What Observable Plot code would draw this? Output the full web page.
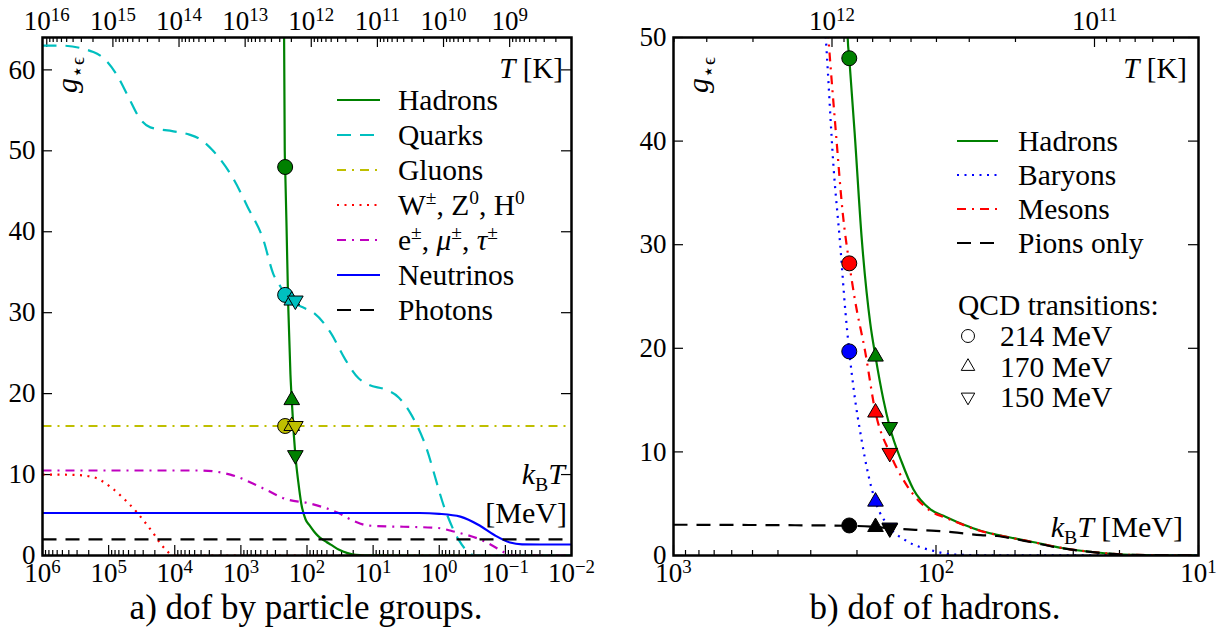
<!DOCTYPE html>
<html>
<head>
<meta charset="utf-8">
<script src="https://cdn.jsdelivr.net/npm/d3@7"></script>
<script src="https://cdn.jsdelivr.net/npm/@observablehq/plot@0.6"></script>
<style>
  html,body{margin:0;padding:0;background:#fff;}
  #wrap{position:relative;width:1229px;height:643px;overflow:hidden;font-family:'Liberation Serif','DejaVu Serif',serif;color:#000;}
  .panel{position:absolute;top:0;}
  .cap{position:absolute;top:590px;font-size:35px;line-height:1;white-space:nowrap;transform:translateX(-50%);font-family:'Liberation Serif','DejaVu Serif',serif;}
  #ov{position:absolute;left:0;top:0;pointer-events:none;}
  svg text{font-family:'Liberation Serif','DejaVu Serif',serif;}
</style>
</head>
<body>
<div id="wrap"></div>
<script>
// ---------------- data (x = k_B T in MeV, y = g*eps) ----------------
// panel a
const hadronT = [222, 217, 214, 204, 192, 178, 170, 158.5, 150, 135, 122, 105, 92, 78.3, 67.6, 58.5, 50.7, 43.7, 32.7, 24.3, 18.2, 10, 1, 0.01];
const hadronG = [64, 50, 48, 40.7, 30.7, 22.4, 19.2, 15.0, 12.4, 9.0, 6.4, 4.45, 3.75, 2.97, 2.39, 2.0, 1.67, 1.35, 0.7, 0.29, 0.07, 0.005, 0, 0];
const quarkT = [1e6, 537000, 170000, 104700, 74100, 51300, 33100, 23400, 10470, 6000, 3900, 2700, 1290, 794, 457, 324, 251, 214, 170, 141, 112, 79.4, 43.7, 26.3, 16.6, 11.7, 6.46, 4.07, 2.69, 1.74, 0.776, 0.513, 0.282, 0.01];
const quarkG = [63, 63, 62.2, 61.0, 59.3, 56.8, 53.9, 52.9, 52.4, 52.0, 51.3, 50.1, 46.5, 43.1, 39.0, 34.8, 33.2, 32.2, 31.5, 31.0, 30.6, 30.0, 27.5, 24.2, 21.9, 21.1, 20.5, 19.5, 17.5, 14.3, 5.2, 2.0, 0, 0];
const gluonT = [1e6, 0.01];
const gluonG = [16, 16];
const wzhT = [1e6, 758600, 316000, 173800, 91200, 60300, 38000, 28800, 20900, 15850, 12900, 10700, 0.01];
const wzhG = [10, 10, 9.95, 9.7, 8.4, 7.1, 5.4, 4.2, 2.7, 1.3, 0.5, 0, 0];
const leptonT = [1e6, 4170, 1445, 490, 195, 100, 34.7, 20, 11.7, 1.05, 0.63, 0.214, 0.11, 0.085, 0.01];
const leptonG = [10.5, 10.5, 10.0, 8.4, 6.9, 6.5, 5.3, 4.3, 3.7, 3.4, 3.0, 1.8, 0.5, 0, 0];
const nuT = [1e6, 2, 1.0, 0.48, 0.245, 0.145, 0.085, 0.056, 0.03, 0.01];
const nuG = [5.25, 5.25, 5.15, 4.8, 3.7, 2.5, 1.6, 1.38, 1.36, 1.36];
const photonT = [1e6, 0.01];
const photonG = [2, 2];
// panel b
const baryonT = [268, 263, 245.5, 231.7, 221.3, 214, 205, 192.8, 181.1, 170, 150, 130.3, 102.3, 87.1, 63, 10];
const baryonG = [53, 50, 37.4, 30.0, 23.5, 19.7, 15.7, 11.4, 7.8, 5.2, 2.7, 1.45, 0.45, 0.1, 0.01, 0];
const mesonT = [262, 257, 240.4, 226.5, 214, 203.7, 186.2, 170, 150, 129.4, 105, 92, 78.3, 67.6, 58.5, 50.7, 43.7, 32.7, 24.3, 18.2, 10];
const mesonG = [53, 50, 40.7, 33.0, 28.2, 24.7, 19.7, 13.8, 9.9, 6.8, 4.3, 3.65, 2.93, 2.36, 1.98, 1.66, 1.34, 0.7, 0.29, 0.07, 0.005];
const pionT = [1000, 400, 214, 170, 150, 120, 100, 83, 67.6, 58.5, 50.7, 43.7, 32.7, 24.3, 18.2, 10];
const pionG = [2.97, 2.93, 2.87, 2.75, 2.62, 2.48, 2.38, 2.2, 1.97, 1.88, 1.62, 1.3, 0.68, 0.28, 0.07, 0.005];
// QCD transition markers (MeV) and values
const transitions = [214, 170, 150];
const hadronMark = [48, 19.2, 12.4];
const quarkMark = [32.2, 31.5, 31.5];
const gluonMark = [16, 16, 16];
const baryonMark = [19.7, 5.2, 2.7];
const mesonMark = [28.2, 13.8, 9.9];
const pionMark = [2.9, 2.75, 2.62];
// axes
const bottomExpA = [6, 5, 4, 3, 2, 1, 0, -1, -2];
const topExpA = [16, 15, 14, 13, 12, 11, 10, 9];
const yTicksA = [0, 10, 20, 30, 40, 50, 60];
const bottomExpB = [3, 2, 1];
const topExpB = [12, 11];
const yTicksB = [0, 10, 20, 30, 40, 50];
const kelvinToMeVA = 8.617e-11;
const kelvinToMeVB = 2.49e-10;

// ---------------- drawing ----------------
const FONT = "'Liberation Serif','DejaVu Serif',serif";
const TS = 27; // tick label size
const SVGNS = "http://www.w3.org/2000/svg";
const wrap = document.getElementById("wrap");
const series = (T, G) => T.map((t, i) => ({t, g: G[i]}));
const triDown = {draw(ctx, size) {
  const y = -Math.sqrt(size / (Math.sqrt(3) * 3));
  ctx.moveTo(0, -y * 2); ctx.lineTo(-Math.sqrt(3) * y, y); ctx.lineTo(Math.sqrt(3) * y, y); ctx.closePath();
}};
const SYM = [{symbol: "circle", r: 7.5}, {symbol: "triangle", r: 5.8}, {symbol: triDown, r: 5.8}];

const C = {green: "#008000", cyan: "#00bfbf", yellow: "#bfbf00", red: "#ff0000", magenta: "#bf00bf", blue: "#0000ff", black: "#000000"};
const DASH = {dash: "14,9", dashdot: "9,6,2,6", dot: "2,5.5", solid: null};

function supify(root) {
  root.querySelectorAll("text").forEach(t => {
    t.setAttribute("font-family", FONT);
    const mm = /^10\^(-?\d+)$/.exec(t.textContent);
    if (!mm) return;
    t.textContent = "10";
    const sup = document.createElementNS(SVGNS, "tspan");
    sup.setAttribute("dy", "-0.45em");
    sup.setAttribute("font-size", "0.7em");
    sup.textContent = mm[1].replace("-", "\u2212");
    t.appendChild(sup);
  });
}

function makePanel(c) {
  const H = c.height - c.mt - c.mb, FW = c.width - c.ml - c.mr;
  const [xmax, xmin] = c.xDomain;
  const majB = c.bottomExp.map(e => 10 ** e);
  const minB = [];
  for (let e = Math.floor(Math.log10(xmin)); e < Math.ceil(Math.log10(xmax)); e++)
    for (let m = 2; m <= 9; m++) { const v = m * 10 ** e; if (v > xmin && v < xmax) minB.push(v); }
  const majT = c.topExp.map(e => 10 ** e * c.k);
  const minT = [];
  for (let e = Math.floor(Math.log10(xmin / c.k)) - 1; e < Math.ceil(Math.log10(xmax / c.k)) + 1; e++)
    for (let m = 2; m <= 9; m++) { const v = m * 10 ** e * c.k; if (v > xmin && v < xmax) minT.push(v); }
  const tk = {stroke: "#000", strokeWidth: 1.2};
  const marks = [
    Plot.ruleX(minB, {x: d => d, insetTop: H - 5, ...tk}),
    Plot.ruleX(majB, {x: d => d, insetTop: H - 10, ...tk}),
    Plot.ruleX(minT, {x: d => d, insetBottom: H - 5, ...tk}),
    Plot.ruleX(majT, {x: d => d, insetBottom: H - 10, ...tk}),
    Plot.ruleY(c.yTicks, {y: d => d, insetRight: FW - 10, ...tk}),
    Plot.ruleY(c.yTicks, {y: d => d, insetLeft: FW - 10, ...tk})
  ];
  for (const s of c.lines) {
    marks.push(Plot.line(series(s.T, s.G), {x: "t", y: "g", stroke: s.color, strokeWidth: 2.2,
      strokeDasharray: s.dash, strokeLinecap: "butt", strokeLinejoin: "round", clip: true, curve: "monotone-x"}));
  }
  for (const m of c.markers) {
    transitions.forEach((t, i) => {
      marks.push(Plot.dot([{t, g: m.values[i]}], {x: "t", y: "g", symbol: SYM[i].symbol, r: SYM[i].r,
        fill: m.color, stroke: "#000", strokeWidth: 1}));
    });
  }
  marks.push(Plot.frame({stroke: "#000", strokeWidth: 2.5}));
  marks.push(Plot.axisY({ticks: c.yTicks, tickSize: 0, tickPadding: 7, label: null, fontSize: TS, fontFamily: FONT}));
  marks.push(Plot.axisX({anchor: "bottom", ticks: majB, tickSize: 0, tickPadding: 7, label: null, fontSize: TS, fontFamily: FONT,
    tickFormat: d => "10^" + Math.round(Math.log10(d))}));
  marks.push(Plot.text(majT, {x: d => d, frameAnchor: "top", lineAnchor: "bottom", dy: -8, fontSize: TS, fontFamily: FONT,
    text: d => "10^" + Math.round(Math.log10(d / c.k)), fill: "#000"}));
  const svg = Plot.plot({
    width: c.width, height: c.height,
    marginLeft: c.ml, marginRight: c.mr, marginTop: c.mt, marginBottom: c.mb,
    x: {type: "log", domain: c.xDomain, axis: null},
    y: {domain: c.yDomain, axis: null},
    style: {fontFamily: FONT, fontSize: TS + "px", color: "#000", background: "transparent", overflow: "visible"},
    marks
  });
  supify(svg);
  const div = document.createElement("div");
  div.className = "panel";
  div.style.left = c.left + "px";
  div.appendChild(svg);
  wrap.appendChild(div);
}

makePanel({
  left: 0, width: 610, height: 590, ml: 42, mr: 39, mt: 37, mb: 35,
  xDomain: [1e6, 1e-2], yDomain: [0, 64], k: kelvinToMeVA,
  bottomExp: bottomExpA, topExp: topExpA, yTicks: yTicksA,
  lines: [
    {T: hadronT, G: hadronG, color: C.green, dash: DASH.solid},
    {T: quarkT, G: quarkG, color: C.cyan, dash: DASH.dash},
    {T: gluonT, G: gluonG, color: C.yellow, dash: DASH.dashdot},
    {T: wzhT, G: wzhG, color: C.red, dash: DASH.dot},
    {T: leptonT, G: leptonG, color: C.magenta, dash: DASH.dashdot},
    {T: nuT, G: nuG, color: C.blue, dash: DASH.solid},
    {T: photonT, G: photonG, color: C.black, dash: DASH.dash}
  ],
  markers: [
    {values: hadronMark, color: C.green},
    {values: quarkMark, color: C.cyan},
    {values: gluonMark, color: C.yellow}
  ]
});

makePanel({
  left: 620, width: 609, height: 590, ml: 53, mr: 31, mt: 37, mb: 35,
  xDomain: [1e3, 1e1], yDomain: [0, 50], k: kelvinToMeVB,
  bottomExp: bottomExpB, topExp: topExpB, yTicks: yTicksB,
  lines: [
    {T: hadronT, G: hadronG, color: C.green, dash: DASH.solid},
    {T: baryonT, G: baryonG, color: C.blue, dash: DASH.dot},
    {T: mesonT, G: mesonG, color: C.red, dash: DASH.dashdot},
    {T: pionT, G: pionG, color: C.black, dash: DASH.dash}
  ],
  markers: [
    {values: hadronMark, color: C.green},
    {values: baryonMark, color: C.blue},
    {values: mesonMark, color: C.red},
    {values: pionMark, color: C.black}
  ]
});

// ---------------- annotations / legends ----------------
const ov = document.createElementNS(SVGNS, "svg");
ov.setAttribute("id", "ov"); ov.setAttribute("width", 1229); ov.setAttribute("height", 643);
wrap.appendChild(ov);
function el(name, attrs, parent = ov) {
  const e = document.createElementNS(SVGNS, name);
  for (const k in attrs) e.setAttribute(k, attrs[k]);
  parent.appendChild(e);
  return e;
}
function rich(x, y, segs, size, anchor = "start", transform = null) {
  const t = el("text", {x, y, "font-size": size, "text-anchor": anchor, "font-family": FONT, fill: "#000"});
  if (transform) t.setAttribute("transform", transform);
  let shift = 0;
  for (const s of segs) {
    const ts = el("tspan", {}, t);
    const target = s.sup ? -0.36 * size : s.sub ? 0.22 * size : 0;
    if (target !== shift) { ts.setAttribute("dy", target - shift); shift = target; }
    if (s.sup || s.sub) ts.setAttribute("font-size", 0.66 * size);
    if (s.i) ts.setAttribute("font-style", "italic");
    ts.textContent = s.t;
  }
  return t;
}
const LS = 29.5;
const legA = [
  {color: C.green, dash: DASH.solid, segs: [{t: "Hadrons"}]},
  {color: C.cyan, dash: DASH.dash, segs: [{t: "Quarks"}]},
  {color: C.yellow, dash: DASH.dashdot, segs: [{t: "Gluons"}]},
  {color: C.red, dash: DASH.dot, segs: [{t: "W"}, {t: "±", sup: 1}, {t: ", Z"}, {t: "0", sup: 1}, {t: ", H"}, {t: "0", sup: 1}]},
  {color: C.magenta, dash: DASH.dashdot, segs: [{t: "e"}, {t: "±", sup: 1}, {t: ", "}, {t: "μ", i: 1}, {t: "±", sup: 1}, {t: ", "}, {t: "τ", i: 1}, {t: "±", sup: 1}]},
  {color: C.blue, dash: DASH.solid, segs: [{t: "Neutrinos"}]},
  {color: C.black, dash: DASH.dash, segs: [{t: "Photons"}]}
];
legA.forEach((d, i) => {
  const y = 100 + 35 * i;
  const ln = el("line", {x1: 337, x2: 380, y1: y, y2: y, stroke: d.color, "stroke-width": 2.2});
  if (d.dash) ln.setAttribute("stroke-dasharray", d.dash);
  rich(398, y + 10, d.segs, LS);
});
const legB = [
  {color: C.green, dash: DASH.solid, label: "Hadrons"},
  {color: C.blue, dash: DASH.dot, label: "Baryons"},
  {color: C.red, dash: DASH.dashdot, label: "Mesons"},
  {color: C.black, dash: DASH.dash, label: "Pions only"}
];
legB.forEach((d, i) => {
  const y = 141 + 34 * i;
  const ln = el("line", {x1: 957, x2: 998, y1: y, y2: y, stroke: d.color, "stroke-width": 2.2});
  if (d.dash) ln.setAttribute("stroke-dasharray", d.dash);
  rich(1018, y + 10, [{t: d.label}], LS);
});
rich(958, 315, [{t: "QCD transitions:"}], LS);
const qcdLabels = ["214 MeV", "170 MeV", "150 MeV"];
const symPaths = [d3.symbolCircle, d3.symbolTriangle, triDown];
qcdLabels.forEach((lab, i) => {
  const y = 336 + 30.5 * i;
  const size = Math.PI * SYM[i].r * SYM[i].r * 0.75;
  el("path", {d: d3.symbol(symPaths[i], size)(), transform: `translate(968,${y})`, fill: "none", stroke: "#000", "stroke-width": 1});
  rich(1000, y + 10, [{t: lab}], LS);
});
// axis annotations
rich(563, 78, [{t: "T", i: 1}, {t: " [K]"}], 29, "end");
rich(1187, 78, [{t: "T", i: 1}, {t: " [K]"}], 29, "end");
rich(565, 484, [{t: "k", i: 1}, {t: "B", sub: 1}, {t: "T", i: 1}], 30, "end");
rich(567, 523, [{t: "[MeV]"}], 30, "end");
rich(1183, 537, [{t: "k", i: 1}, {t: "B", sub: 1}, {t: "T", i: 1}, {t: " [MeV]"}], 30, "end");
rich(77, 75, [{t: "g", i: 1}, {t: "⋆ϵ", sub: 1}], 30, "middle", "rotate(-90 77 75)");
rich(708, 75, [{t: "g", i: 1}, {t: "⋆ϵ", sub: 1}], 30, "middle", "rotate(-90 708 75)");

// captions
const capA = document.createElement("div");
capA.className = "cap"; capA.style.left = "306px"; capA.textContent = "a) dof by particle groups.";
wrap.appendChild(capA);
const capB = document.createElement("div");
capB.className = "cap"; capB.style.left = "935px"; capB.textContent = "b) dof of hadrons.";
wrap.appendChild(capB);
</script>
</body>
</html>
